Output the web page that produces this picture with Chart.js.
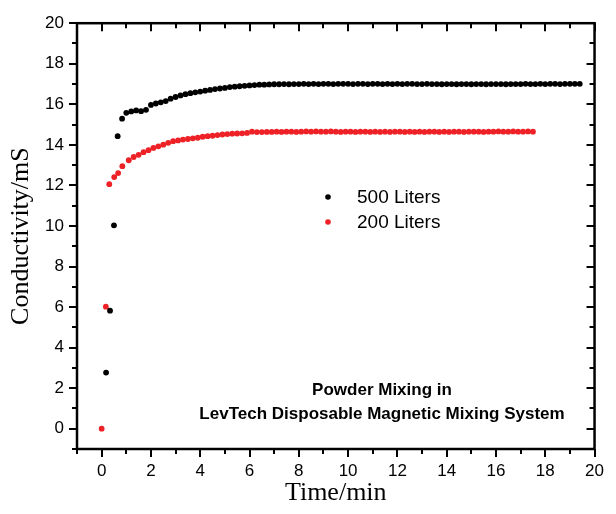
<!DOCTYPE html>
<html>
<head>
<meta charset="utf-8">
<script src="https://cdn.jsdelivr.net/npm/chart.js@4.4.1/dist/chart.umd.min.js"></script>
<style>
  body { margin: 0; background: #fff; }
  #wrap { width: 616px; height: 514px; }
</style>
</head>
<body>
<div id="wrap"><canvas id="mixChart" width="616" height="514"></canvas></div>
<script>
// tick labels
const xTicks = [0, 2, 4, 6, 8, 10, 12, 14, 16, 18, 20];
const yTicks = [0, 2, 4, 6, 8, 10, 12, 14, 16, 18, 20];

// 500 Liters (black)
const time500 = [
  0.18, 0.34, 0.50, 0.65, 0.83,
  1.0, 1.2, 1.4, 1.6, 1.8, 2.0, 2.2, 2.4, 2.6, 2.8,
  3.0, 3.2, 3.4, 3.6, 3.8, 4.0, 4.2, 4.4, 4.6, 4.8,
  5.0, 5.2, 5.4, 5.6, 5.8, 6.0, 6.2, 6.4, 6.6, 6.8,
  7.0, 7.2, 7.4, 7.6, 7.8, 8.0, 8.2, 8.4, 8.6, 8.8,
  9.0, 9.2, 9.4, 9.6, 9.8, 10.0, 10.2, 10.4, 10.6, 10.8,
  11.0, 11.2, 11.4, 11.6, 11.8, 12.0, 12.2, 12.4, 12.6, 12.8,
  13.0, 13.2, 13.4, 13.6, 13.8, 14.0, 14.2, 14.4, 14.6, 14.8,
  15.0, 15.2, 15.4, 15.6, 15.8, 16.0, 16.2, 16.4, 16.6, 16.8,
  17.0, 17.2, 17.4, 17.6, 17.8, 18.0, 18.2, 18.4, 18.6, 18.8,
  19.0, 19.2, 19.4
];
const cond500 = [
  2.77, 5.82, 10.03, 14.43, 15.29,
  15.58, 15.65, 15.70, 15.66, 15.73, 15.97, 16.04, 16.10, 16.16, 16.28,
  16.36, 16.44, 16.50, 16.55, 16.59, 16.63, 16.67, 16.71, 16.75, 16.78,
  16.81, 16.85, 16.87, 16.89, 16.91, 16.93, 16.95, 16.97, 16.97, 16.98,
  16.99, 16.99, 17.00, 16.99, 17.00, 17.00, 17.01, 17.00, 17.01, 17.00,
  17.01, 17.01, 17.00, 17.01, 17.01, 17.01, 17.00, 17.01, 17.01, 17.00,
  17.01, 17.01, 17.00, 17.01, 17.00, 17.01, 17.00, 17.01, 17.01, 17.00,
  17.00, 17.01, 17.00, 17.00, 16.99, 17.00, 17.00, 16.99, 17.00, 17.00,
  16.99, 17.00, 17.00, 16.99, 17.00, 17.00, 17.00, 16.99, 17.00, 17.00,
  17.00, 17.01, 17.00, 17.00, 17.01, 17.00, 17.01, 17.01, 17.00, 17.01,
  17.01, 17.01, 17.01
];

// 200 Liters (red)
const time200 = [
  0.0, 0.17, 0.31, 0.51, 0.67, 0.84,
  1.1, 1.3, 1.5, 1.7, 1.9, 2.1, 2.3, 2.5, 2.7, 2.9,
  3.1, 3.3, 3.5, 3.7, 3.9, 4.1, 4.3, 4.5, 4.7, 4.9,
  5.1, 5.3, 5.5, 5.7, 5.9, 6.1, 6.3, 6.5, 6.7, 6.9,
  7.1, 7.3, 7.5, 7.7, 7.9, 8.1, 8.3, 8.5, 8.7, 8.9,
  9.1, 9.3, 9.5, 9.7, 9.9, 10.1, 10.3, 10.5, 10.7, 10.9,
  11.1, 11.3, 11.5, 11.7, 11.9, 12.1, 12.3, 12.5, 12.7, 12.9,
  13.1, 13.3, 13.5, 13.7, 13.9, 14.1, 14.3, 14.5, 14.7, 14.9,
  15.1, 15.3, 15.5, 15.7, 15.9, 16.1, 16.3, 16.5, 16.7, 16.9,
  17.1, 17.3, 17.5
];
const cond200 = [
  0.0, 6.02, 12.06, 12.41, 12.61, 12.95,
  13.24, 13.40, 13.51, 13.64, 13.74, 13.85, 13.93, 14.01, 14.10, 14.18,
  14.22, 14.26, 14.29, 14.32, 14.35, 14.40, 14.43, 14.45, 14.48, 14.51,
  14.53, 14.55, 14.56, 14.57, 14.59, 14.65, 14.63, 14.63, 14.64, 14.64,
  14.65, 14.64, 14.65, 14.65, 14.64, 14.65, 14.66, 14.65, 14.66, 14.65,
  14.65, 14.66, 14.65, 14.64, 14.65, 14.65, 14.64, 14.65, 14.65, 14.64,
  14.65, 14.64, 14.65, 14.64, 14.65, 14.65, 14.64, 14.65, 14.64, 14.65,
  14.64, 14.65, 14.65, 14.64, 14.65, 14.64, 14.65, 14.65, 14.64, 14.65,
  14.65, 14.65, 14.64, 14.65, 14.65, 14.66, 14.65, 14.65, 14.66, 14.65,
  14.65, 14.66, 14.65
];

const seriesLabels = ['500 Liters', '200 Liters'];
const noteLines = ['Powder Mixing in', 'LevTech Disposable Magnetic Mixing System'];

const BLACK = '#000000';
const RED = '#ee2127';
const tickFont = { family: "'Liberation Sans', Arial, sans-serif", size: 17 };
const titleFont = { family: "'Liberation Serif', 'Times New Roman', serif", size: 26 };

function toPoints(xs, ys) {
  return xs.map((x, i) => ({ x: x, y: ys[i] }));
}

// frame, ticks on all four sides (minor every 1, major every 2), legend and note
const framePlugin = {
  id: 'framePlugin',
  afterDatasetsDraw(chart) {
    const ctx = chart.ctx;
    const area = chart.chartArea;
    const xs = chart.scales.x;
    const ys = chart.scales.y;
    ctx.save();
    ctx.strokeStyle = '#000';
    ctx.lineWidth = 2;
    for (let v = Math.ceil(xs.min); v <= xs.max; v++) {
      const px = Math.round(xs.getPixelForValue(v));
      const len = v % 2 === 0 ? 8 : 5;
      ctx.beginPath();
      ctx.moveTo(px, area.bottom);
      ctx.lineTo(px, area.bottom + len);
      ctx.moveTo(px, area.top);
      ctx.lineTo(px, area.top + len);
      ctx.stroke();
    }
    for (let v = Math.ceil(ys.min); v <= ys.max; v++) {
      const py = Math.round(ys.getPixelForValue(v));
      const len = v % 2 === 0 ? 8 : 5;
      ctx.beginPath();
      ctx.moveTo(area.left, py);
      ctx.lineTo(area.left - len, py);
      ctx.moveTo(area.right, py);
      ctx.lineTo(area.right - len, py);
      ctx.stroke();
    }
    ctx.lineWidth = 2.5;
    ctx.strokeRect(area.left, area.top, area.right - area.left, area.bottom - area.top);

    // legend
    const legendColors = [BLACK, RED];
    ctx.font = "19px 'Liberation Sans', Arial, sans-serif";
    ctx.textBaseline = 'middle';
    ctx.textAlign = 'left';
    seriesLabels.forEach((lbl, i) => {
      const y = 197 + i * 25;
      ctx.fillStyle = legendColors[i];
      ctx.beginPath();
      ctx.arc(328, y, 2.8, 0, Math.PI * 2);
      ctx.fill();
      ctx.fillStyle = '#000';
      ctx.fillText(lbl, 357, y + 1);
    });

    // note
    ctx.font = "bold 17px 'Liberation Sans Narrow', 'Arial Narrow', 'Liberation Sans', sans-serif";
    ctx.textAlign = 'center';
    ctx.fillText(noteLines[0], 382, 390);
    ctx.fillText(noteLines[1], 382, 414);
    ctx.restore();
  }
};

const ctx = document.getElementById('mixChart').getContext('2d');
const chart = new Chart(ctx, {
  type: 'scatter',
  data: {
    datasets: [
      {
        label: seriesLabels[0],
        data: toPoints(time500, cond500),
        backgroundColor: BLACK,
        borderColor: BLACK,
        pointRadius: 2.9,
        pointBorderWidth: 0
      },
      {
        label: seriesLabels[1],
        data: toPoints(time200, cond200),
        backgroundColor: RED,
        borderColor: RED,
        pointRadius: 2.9,
        pointBorderWidth: 0
      }
    ]
  },
  options: {
    responsive: false,
    animation: false,
    devicePixelRatio: 1,
    layout: { padding: { top: 20, right: 11, left: 0, bottom: 0 } },
    plugins: {
      legend: { display: false },
      tooltip: { enabled: false }
    },
    scales: {
      x: {
        type: 'linear',
        min: -1,
        max: 20,
        afterBuildTicks: (scale) => { scale.ticks = xTicks.map(v => ({ value: v })); },
        afterFit: (scale) => { scale.height = 65; },
        grid: { display: true, drawOnChartArea: false, drawTicks: false },
        border: { display: false },
        ticks: { color: '#000', font: tickFont, padding: 12, maxRotation: 0 },
        title: { display: true, text: 'Time/min', color: '#000', font: titleFont, padding: { top: 0, bottom: 5 } }
      },
      y: {
        type: 'linear',
        min: -1,
        max: 20,
        afterBuildTicks: (scale) => { scale.ticks = yTicks.map(v => ({ value: v })); },
        afterFit: (scale) => { scale.width = 77; },
        grid: { display: true, drawOnChartArea: false, drawTicks: false },
        border: { display: false },
        ticks: { color: '#000', font: tickFont, padding: 13 },
        title: { display: true, text: 'Conductivity/mS', color: '#000', font: titleFont, padding: { top: 6, bottom: 0 } }
      }
    }
  },
  plugins: [framePlugin]
});
</script>
</body>
</html>
